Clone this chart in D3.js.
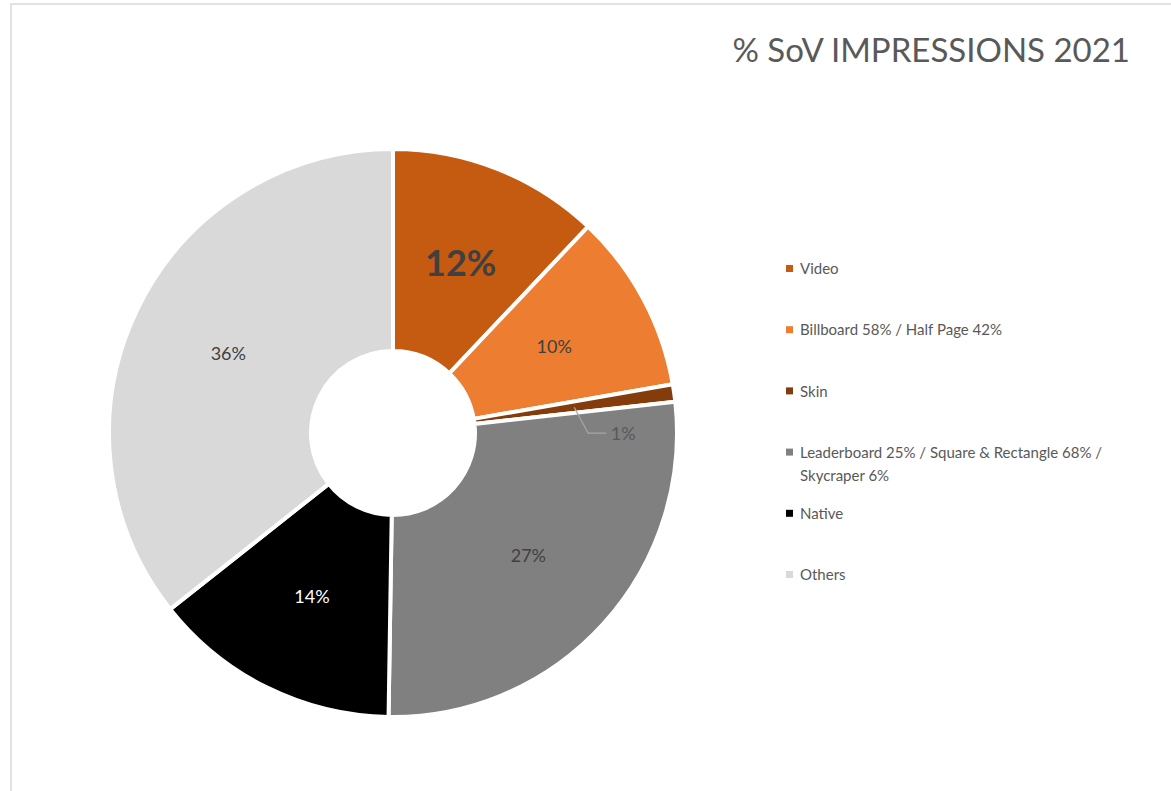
<!DOCTYPE html>
<html>
<head>
<meta charset="utf-8">
<script src="https://cdn.jsdelivr.net/npm/d3@7"></script>
<style>
  html, body { margin: 0; padding: 0; background: #fff; }
  svg { display: block; font-family: Lato, "Open Sans", sans-serif; }
</style>
</head>
<body>
<div id="chart"></div>
<script>
const categories = ['Video', 'Billboard 58% / Half Page 42%', 'Skin',
    'Leaderboard 25% / Square & Rectangle 68% / Skycraper 6%', 'Native', 'Others'];
const values = [12.05, 10.2, 1.0, 27.0, 14.1, 35.65];
const labels = ['12%', '10%', '1%', '27%', '14%', '36%'];
const legendLines = [['Video'], ['Billboard 58% / Half Page 42%'], ['Skin'],
    ['Leaderboard 25% / Square & Rectangle 68% /', 'Skycraper 6%'], ['Native'], ['Others']];
const colors = ['#C55A11', '#ED7D31', '#843C0C', '#808080', '#000000', '#D9D9D9'];
const labelColors = ['#404040', '#404040', '#595959', '#404040', '#ffffff', '#404040'];

const width = 1171, height = 791;
const cx = 393, cy = 433, outerR = 284, innerR = 82;

const svg = d3.select('#chart').append('svg')
    .attr('width', width)
    .attr('height', height);

// chart area border
svg.append('rect')
    .attr('x', 11).attr('y', 4)
    .attr('width', width + 20).attr('height', height + 20)
    .attr('fill', 'none')
    .attr('stroke', '#d9d9d9')
    .attr('stroke-width', 1.5);

svg.append('text')
    .attr('x', 1130).attr('y', 62)
    .attr('text-anchor', 'end')
    .attr('fill', '#595959')
    .style('font-size', '33px')
    .text('% SoV IMPRESSIONS 2021');

const g = svg.append('g').attr('transform', `translate(${cx},${cy})`);

const pie = d3.pie().value(d => d).sort(null);
const arcs = pie(values);
const arc = d3.arc().innerRadius(innerR).outerRadius(outerR);
const labelArc = d3.arc().innerRadius((innerR + outerR) / 2).outerRadius((innerR + outerR) / 2);

g.selectAll('path')
    .data(arcs)
    .join('path')
    .attr('d', arc)
    .attr('fill', (d, i) => colors[i])
    .attr('stroke', '#fff')
    .attr('stroke-width', 4)
    .attr('stroke-linejoin', 'round');

arcs.forEach((d, i) => {
    let [x, y] = labelArc.centroid(d);
    if (values[i] < 3) {
        // small slice: label outside with a leader line
        const bx = x + 14, by = y + 26;
        g.append('polyline')
            .attr('points', `${x},${y} ${bx},${by} ${bx + 18},${by}`)
            .attr('fill', 'none')
            .attr('stroke', '#a6a6a6')
            .attr('stroke-width', 1.3);
        x = bx + 35; y = by;
    }
    g.append('text')
        .attr('x', x).attr('y', y)
        .attr('dy', '0.35em')
        .attr('text-anchor', 'middle')
        .attr('fill', labelColors[i])
        .style('font-size', i === 0 ? '36px' : '18px')
        .style('font-weight', i === 0 ? 'bold' : 'normal')
        .text(labels[i]);
});

// legend
const legendY = d3.scalePoint().domain(d3.range(categories.length)).range([269, 575]);
const legend = svg.append('g');
categories.forEach((c, i) => {
    const y = legendY(i);
    legend.append('rect')
        .attr('x', 786).attr('y', y - 4)
        .attr('width', 7).attr('height', 7)
        .attr('fill', colors[i]);
    const t = legend.append('text')
        .attr('x', 800).attr('y', y)
        .attr('dy', '0.35em')
        .attr('fill', '#595959')
        .style('font-size', '15px');
    legendLines[i].forEach((line, j) => {
        t.append('tspan')
            .attr('x', 800)
            .attr('dy', j === 0 ? '0.35em' : '23')
            .text(line);
    });
});
</script>
</body>
</html>
